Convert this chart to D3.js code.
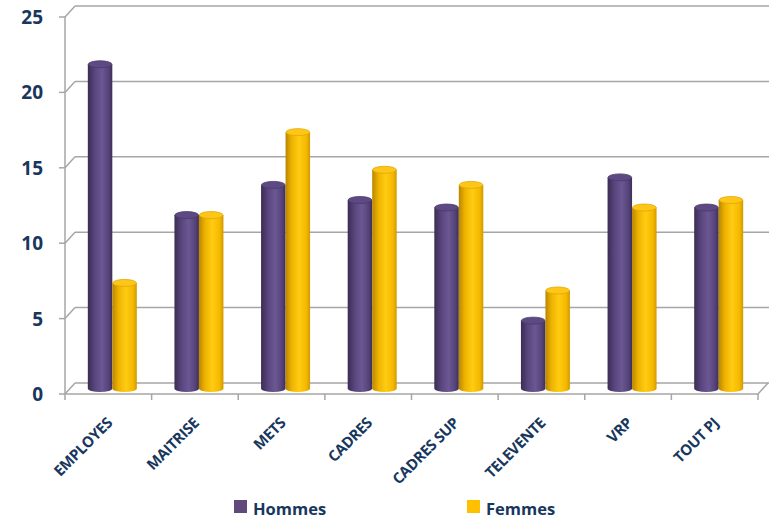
<!DOCTYPE html>
<html>
<head>
<meta charset="utf-8">
<script src="https://cdn.jsdelivr.net/npm/d3@7"></script>
<style>
  body { margin: 0; background: #fff; }
  svg { display: block; }
  text { font-family: "Open Sans", sans-serif; font-weight: bold; fill: #17375e; }
</style>
</head>
<body>
<div id="chart"></div>
<script>
// data
var categories = ['EMPLOYES','MAITRISE','METS','CADRES','CADRES SUP','TELEVENTE','VRP','TOUT PJ'];
var seriesNames = ['Hommes','Femmes'];
var hommes = [21.5, 11.5, 13.5, 12.5, 12, 4.5, 14, 12];
var femmes = [7, 11.5, 17, 14.5, 13.5, 6.5, 12, 12.5];
var yTicks = [0, 5, 10, 15, 20, 25];

var W = 769, H = 520;
var depthX = 10, depthY = -11;

var svg = d3.select('#chart').append('svg')
			.attr('width', W)
			.attr('height', H);

var defs = svg.append('defs');

function gradient(id, stops){
	var g = defs.append('linearGradient')
				.attr('id', id)
				.attr('x1', '0%').attr('x2', '100%')
				.attr('y1', '0%').attr('y2', '0%');
	stops.forEach(function(s){
		g.append('stop').attr('offset', s[0]).attr('stop-color', s[1]);
	});
}
gradient('gPurple', [['0%','#3b2c52'],['30%','#5a4780'],['58%','#6b5893'],['85%','#55437a'],['100%','#3e2f58']]);
gradient('gYellow', [['0%','#b98600'],['25%','#eeb300'],['55%','#ffcc11'],['85%','#f4b800'],['100%','#cf9a00']]);

var fills = ['url(#gPurple)', 'url(#gYellow)'];
var capFills = ['#5d4a84', '#ffc61a'];
var capStrokes = ['#4a3a6a', '#e0a800'];
var legendFills = ['#604a7b', '#ffc000'];

var x = d3.scaleBand().domain(categories).range([65, 758]);
var y = d3.scaleLinear().domain([0, 25]).range([394, 17]);
var inner = d3.scaleBand().domain(seriesNames).range([0, 49]);

var grid = svg.append('g')
			.attr('stroke', '#a6a6a6')
			.attr('stroke-width', 1.5)
			.attr('fill', 'none');

// back wall gridlines + side wall connectors
yTicks.forEach(function(t){
	var yf = y(t);
	grid.append('line')
		.attr('x1', 75).attr('y1', yf + depthY)
		.attr('x2', W).attr('y2', yf + depthY);
	grid.append('line')
		.attr('x1', 65).attr('y1', yf)
		.attr('x2', 65 + depthX).attr('y2', yf + depthY);
	grid.append('line')
		.attr('x1', 59).attr('y1', yf)
		.attr('x2', 65).attr('y2', yf);
});

// floor
grid.append('path')
	.attr('d', 'M65,' + y(0) + 'L758,' + y(0) + 'L' + (758 + depthX) + ',' + (y(0) + depthY));
// y axis line
grid.append('line')
	.attr('x1', 65).attr('y1', y(25))
	.attr('x2', 65).attr('y2', y(0));

// category ticks
d3.range(categories.length + 1).forEach(function(i){
	var xx = 65 + i * x.step();
	grid.append('line')
		.attr('x1', xx).attr('y1', y(0))
		.attr('x2', xx).attr('y2', y(0) + 6);
});

// y labels
svg.append('g').selectAll('text')
	.data(yTicks)
	.enter().append('text')
	.attr('x', 43)
	.attr('y', function(d){ return y(d) + 7; })
	.attr('text-anchor', 'end')
	.attr('font-size', 19)
	.text(function(d){ return d; });

// bars as cylinders
var rx = 12.25, ry = 3.5;
var bars = svg.append('g');
var values = [hommes, femmes];
categories.forEach(function(c, i){
	seriesNames.forEach(function(s, k){
		var v = values[k][i];
		var x0 = x(c) + x.bandwidth() / 2 + 4 - 24.5 + inner(s);
		var x1 = x0 + inner.bandwidth();
		var yt = y(v) + depthY / 2;
		var yb = y(0) + depthY / 2;
		bars.append('path')
			.attr('d', 'M' + x0 + ',' + yt + 'L' + x0 + ',' + yb +
				'A' + rx + ',' + ry + ' 0 0 0 ' + x1 + ',' + yb +
				'L' + x1 + ',' + yt + 'Z')
			.attr('fill', fills[k]);
		bars.append('ellipse')
			.attr('cx', (x0 + x1) / 2)
			.attr('cy', yt)
			.attr('rx', rx - 0.4)
			.attr('ry', ry)
			.attr('fill', capFills[k])
			.attr('stroke', capStrokes[k])
			.attr('stroke-width', 0.8);
	});
});

// x labels
svg.append('g').selectAll('text')
	.data(categories)
	.enter().append('text')
	.attr('text-anchor', 'end')
	.attr('font-size', 15)
	.attr('letter-spacing', -0.4)
	.attr('transform', function(d){
		return 'translate(' + (x(d) + x.bandwidth() / 2 + 5) + ',' + 424 + ') rotate(-45)';
	})
	.text(function(d){ return d; });

// legend
var legendX = [234, 467];
var legend = svg.append('g').selectAll('g')
	.data(seriesNames)
	.enter().append('g')
	.attr('transform', function(d, i){ return 'translate(' + legendX[i] + ',500)'; });
legend.append('rect')
	.attr('width', 13).attr('height', 13)
	.attr('fill', function(d, i){ return legendFills[i]; });
legend.append('text')
	.attr('x', 19).attr('y', 15)
	.attr('font-size', 16.5)
	.text(function(d){ return d; });
</script>
</body>
</html>
